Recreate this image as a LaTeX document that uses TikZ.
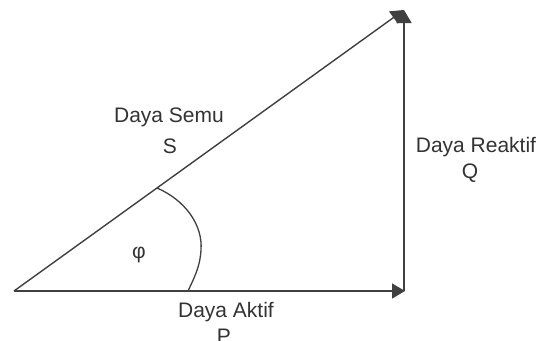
\documentclass[tikz,border=0pt]{standalone}
\usepackage{fontspec}
\setmainfont{Liberation Sans}
\usetikzlibrary{arrows.meta}
\begin{document}
\begin{tikzpicture}[x=1pt,y=-1pt,
  vec/.style={draw=black!75,line width=1.4pt,-{Triangle[length=13pt,width=15pt]}},
  lbl/.style={anchor=base,inner sep=0pt,text=black!80,font=\fontsize{21}{24}\selectfont},
  arcline/.style={draw=black!75,line width=1.3pt}]
\useasboundingbox[fill=white] (0,0) rectangle (538,340);
\coordinate (O) at (14,291);
\coordinate (B) at (405,291);
\coordinate (T) at (404,10);
\coordinate (A1) at (157,188);
\coordinate (A2) at (188,291);
\draw[vec] (O) -- (B);
\draw[vec] (404,291) -- (T);
\draw[vec] (O) -- (T);
\draw[arcline] (A1) .. controls (185,200) and (203,225) .. (201,250)
  .. controls (200,268) and (193,280) .. (A2);
\node[lbl] (semu) at (169,122) {Daya Semu};
\node[lbl] (s) at (170,153) {S};
\node[lbl] (reaktif) at (476,152) {Daya Reaktif};
\node[lbl] (q) at (470,178) {Q};
\node[lbl] (aktif) at (226,317) {Daya Aktif};
\node[lbl] (p) at (224,343) {P};
\node[lbl] (phi) at (139,258) {φ};
\end{tikzpicture}
\end{document}
